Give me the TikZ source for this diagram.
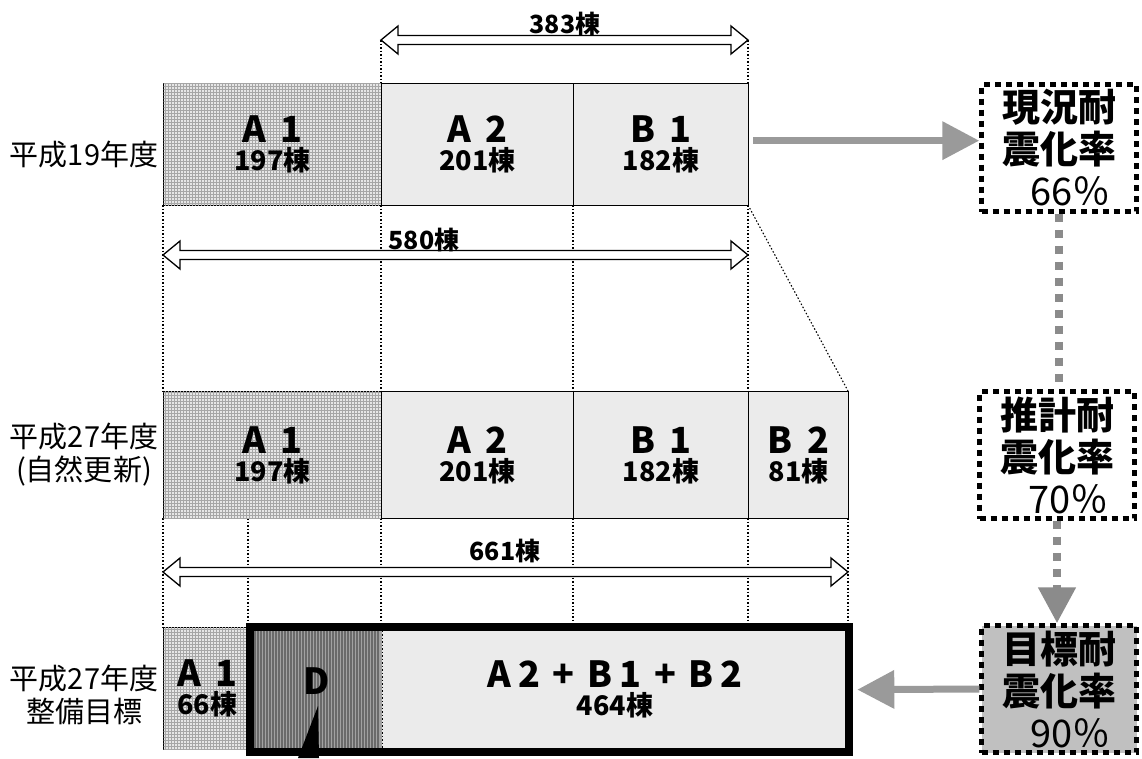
\documentclass[tikz,border=0pt]{standalone}
\usepackage{fontspec}
\setmainfont{Noto Sans CJK JP}
\usetikzlibrary{arrows.meta,fit,patterns}

\definecolor{cellA}{HTML}{E6E6E6}
\definecolor{gridA}{HTML}{A6A6A6}
\definecolor{cellL}{HTML}{EBEBEB}
\definecolor{cellD}{HTML}{A2A2A2}
\definecolor{stripeD}{HTML}{6A6A6A}
\definecolor{flowgray}{HTML}{9A9A9A}
\definecolor{rategray}{HTML}{C0C0C0}

\newcommand{\cname}[1]{{\fontsize{36}{38}\selectfont\bfseries #1}}
\newcommand{\ccount}[1]{{\fontsize{27}{30}\selectfont\bfseries #1}}
% hollow double arrow: x1, x2, y
\newcommand{\spanarrow}[3]{%
  \draw[line width=1.3pt,fill=white,line join=miter] (#1,#3) -- ++(17,-14) -- ++(0,9.5)
    -- (#2-17,#3-4.5) -- ++(0,-9.5) -- (#2,#3) -- ++(-17,14) -- ++(0,-9.5)
    -- (#1+17,#3+4.5) -- ++(0,9.5) -- cycle;}

\begin{document}
\begin{tikzpicture}[x=1pt,y=-1pt,
    cell/.style={draw,line width=1.3pt,anchor=north west,inner sep=0pt,align=center,fill=cellL},
    gridcell/.style={cell,fill=cellA,postaction={pattern=grid,pattern color=gridA}},
    guide/.style={line width=1.1pt,dash pattern=on 1.5pt off 2pt},
    yearlabel/.style={align=center,font=\fontsize{29}{33}\selectfont},
    spanlabel/.style={font=\fontsize{25}{28}\selectfont\bfseries},
    rate/.style={draw,line width=4.5pt,dash pattern=on 6pt off 5pt,minimum width=155pt,
      minimum height=127pt,inner sep=0pt,align=center,font=\fontsize{38}{42}\selectfont\bfseries},
    flow/.style={draw=flowgray,line width=7pt,-{Triangle[length=37pt,width=37pt]}},
    vlink/.style={draw=flowgray!90!black,line width=8pt,dash pattern=on 8pt off 8pt}]
  \useasboundingbox (0,0) rectangle (1142,758);
  % year labels
  \node[yearlabel] (h19) at (84,155) {平成19年度};
  \node[yearlabel] (h27n) at (84,455) {平成27年度\\(自然更新)};
  \node[yearlabel] (h27t) at (84,695) {平成27年度\\整備目標};
  % guide lines
  \foreach \xx in {381,748}{%
    \draw[guide] (\xx,40) -- (\xx,83);}
  \foreach \xx in {163,381,573,748}{%
    \draw[guide] (\xx,205) -- (\xx,391);}
  \draw[guide] (748,205) -- (848,391);
  \foreach \xx in {163,248,381,573,748,848}{%
    \draw[guide] (\xx,518) -- (\xx,627);}
  % row H19
  \node[gridcell,minimum width=218pt,minimum height=122pt] (ya1) at (163,83)
    {\cname{A\hspace{.4em}1}\\[4pt]\ccount{197棟}};
  \node[cell,minimum width=192pt,minimum height=122pt] (ya2) at (381,83)
    {\cname{A\hspace{.4em}2}\\[4pt]\ccount{201棟}};
  \node[cell,minimum width=175pt,minimum height=122pt] (yb1) at (573,83)
    {\cname{B\hspace{.4em}1}\\[4pt]\ccount{182棟}};
  % row H27 natural
  \node[gridcell,minimum width=218pt,minimum height=127pt] (na1) at (163,391)
    {\cname{A\hspace{.4em}1}\\[4pt]\ccount{197棟}};
  \node[cell,minimum width=192pt,minimum height=127pt] (na2) at (381,391)
    {\cname{A\hspace{.4em}2}\\[4pt]\ccount{201棟}};
  \node[cell,minimum width=175pt,minimum height=127pt] (nb1) at (573,391)
    {\cname{B\hspace{.4em}1}\\[4pt]\ccount{182棟}};
  \node[cell,minimum width=100pt,minimum height=127pt] (nb2) at (748,391)
    {\cname{B\hspace{.4em}2}\\[4pt]\ccount{81棟}};
  % row H27 target
  \node[gridcell,minimum width=87pt,minimum height=122pt] (ta1) at (163,627)
    {\cname{A\hspace{.4em}1}\\[4pt]\ccount{66棟}};
  \node[cell,draw=none,fill=cellD,minimum width=131pt,minimum height=124pt] (td) at (250,627) {};
  \foreach \xx in {252,255,...,380}{%
    \draw[stripeD,line width=1.5pt] (\xx,627) -- (\xx,751);}
  \node at ([yshift=9pt]td.center) {\cname{D}};
  \node[cell,draw=none,minimum width=467pt,minimum height=124pt] (tab) at (381,627)
    {\cname{A\hspace{.2em}2\hspace{.35em}+\hspace{.35em}B\hspace{.2em}1\hspace{.35em}+\hspace{.35em}B\hspace{.2em}2}\\[4pt]\ccount{464棟}};
  \draw[guide] (td.north east) -- (td.south east);
  \node[fit=(td)(tab),draw,line width=8pt,inner sep=0pt] (ttot) {};
  \fill (318,706) -- (298,758) -- (319,758) -- cycle;
  % span arrows
  \spanarrow{381}{748}{40}
  \node[spanlabel] (s383) at (565,24) {383棟};
  \spanarrow{163}{748}{255}
  \node[spanlabel] (s580) at (424,240) {580棟};
  \spanarrow{163}{848}{572}
  \node[spanlabel] (s661) at (505,551) {661棟};
  % seismic rates
  \node[rate] (cur) at (1059,148) {現況耐\\震化率\\{\mdseries\hspace*{.6em}66％}};
  \node[rate] (est) at (1057,455) {推計耐\\震化率\\{\mdseries\hspace*{.6em}70％}};
  \node[rate,fill=rategray] (tgt) at (1059,689) {目標耐\\震化率\\{\mdseries\hspace*{.6em}90％}};
  \draw[vlink] (cur.south) -- (cur.south |- est.north);
  \draw[vlink,-{Triangle[length=36pt,width=36pt]}] (est.south) -- (est.south |- tgt.north);
  \draw[flow,shorten <=4pt] ([yshift=4pt]yb1.east) -- ([yshift=4pt]yb1.east -| cur.west);
  \draw[flow,shorten >=4pt] (tgt.west) -- (ttot.east);
\end{tikzpicture}
\end{document}
